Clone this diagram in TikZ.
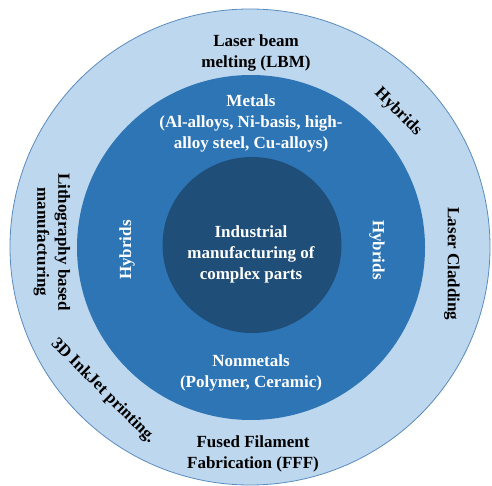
\documentclass[tikz,border=0pt]{standalone}
\usepackage{fontspec}
\setmainfont{Liberation Serif}
\definecolor{ringout}{HTML}{BDD7EE}
\definecolor{ringedge}{HTML}{5B8CC0}
\definecolor{ringmid}{HTML}{2E75B6}
\definecolor{ringin}{HTML}{1F4E79}
\begin{document}
\begin{tikzpicture}[x=1pt,y=-1pt,
  lbl/.style={font=\fontsize{17}{21}\selectfont\bfseries, align=center, inner sep=0pt},
  dark/.style={lbl, text=black},
  light/.style={lbl, text=white}]
\useasboundingbox (0,0) rectangle (492,486);
\fill[ringout, draw=ringedge, line width=0.8pt] (250,247) ellipse [x radius=240pt, y radius=238pt];
\fill[ringmid] (251,247.5) ellipse [x radius=174pt, y radius=172.5pt];
\fill[ringin] (252,245) ellipse [x radius=89.5pt, y radius=88pt];
% outer ring labels
\node[dark] (lbm) at (256,53) {Laser beam\\melting (LBM)};
\node[dark, rotate=-45] (hyb3) at (398,112) {Hybrids};
\node[dark, rotate=-90] (clad) at (452,264) {Laser Cladding};
\node[dark] (fff) at (253,454) {Fused Filament\\Fabrication (FFF)};
\node[dark, rotate=-45] (ink) at (103,391) {3D InkJet printing.};
\node[dark, rotate=-90] (litho) at (52,242) {Lithography based\\manufacturing};
% middle ring labels
\node[light] (met) at (251,123) {Metals\\(Al-alloys, Ni-basis, high-\\alloy steel, Cu-alloys)};
\node[light] (non) at (251,373) {Nonmetals\\(Polymer, Ceramic)};
\node[light, rotate=90] (hyb1) at (127,250) {Hybrids};
\node[light, rotate=-90] (hyb2) at (377,250) {Hybrids};
% inner
\node[light] (ind) at (251,254) {Industrial\\manufacturing of\\complex parts};
\end{tikzpicture}
\end{document}
